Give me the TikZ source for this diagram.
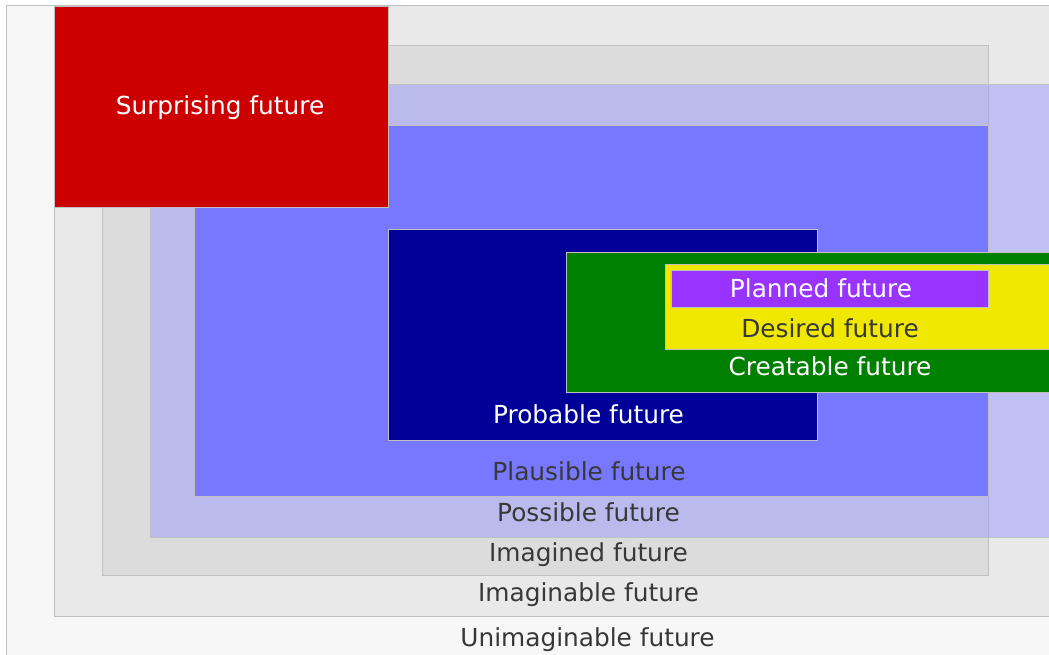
\documentclass[tikz,border=0pt]{standalone}
\usepackage{fontspec}
\setmainfont{DejaVu Sans}
\definecolor{frame}{HTML}{C0C0C0}
\definecolor{darktext}{HTML}{383838}
\definecolor{unimag}{HTML}{F7F7F7}
\definecolor{imagble}{HTML}{E9E9E9}
\definecolor{imagned}{HTML}{DCDCDC}
\definecolor{possib}{HTML}{9999FF}
\definecolor{plaus}{HTML}{7878FF}
\definecolor{probab}{HTML}{000099}
\definecolor{creat}{HTML}{008000}
\definecolor{desir}{HTML}{F0E800}
\definecolor{plann}{HTML}{9933FF}
\definecolor{surpr}{HTML}{CC0000}
\tikzset{
  zone/.style={draw=frame, line width=1pt},
  lbl/.style={anchor=base, inner sep=0pt, font=\fontsize{24.8}{29}\selectfont},
  lightlbl/.style={lbl, text=white},
  darklbl/.style={lbl, text=darktext},
}
\begin{document}
\begin{tikzpicture}[x=1pt, y=-1pt]
\useasboundingbox (0,0) rectangle (1049,655);
\clip (0,0) rectangle (1049,655);

% nested regions, outermost first
\draw[zone, fill=unimag]  (6,6)     rectangle (1070,680);
\draw[zone, fill=imagble] (54,6)    rectangle (1070,616);
\draw[zone, fill=imagned] (102,46)  rectangle (988,575);
\fill[possib, fill opacity=0.5] (150,85) rectangle (1070,537);
\draw[frame, line width=1pt] (150,85) rectangle (1070,537);
\draw[zone, fill=plaus]   (194,126) rectangle (988,496);
\draw[zone, fill=probab]  (388,229) rectangle (817,440);
\draw[zone, fill=creat]   (566,252) rectangle (1070,392);
\draw[zone, fill=desir]   (665,264) rectangle (1070,349);
\draw[zone, fill=plann]   (671,270) rectangle (988,307);
\draw[zone, fill=surpr]   (54,7)    rectangle (388,208);

% labels
\node[lightlbl] (surprising)   at (220,115)   {Surprising future};
\node[lightlbl] (planned)      at (821,297)   {Planned future};
\node[darklbl]  (desired)      at (830,337.5) {Desired future};
\node[lightlbl] (creatable)    at (830,375)   {Creatable future};
\node[lightlbl] (probable)     at (588.5,423) {Probable future};
\node[darklbl]  (plausible)    at (589,480)   {Plausible future};
\node[darklbl]  (possible)     at (588.5,521.5) {Possible future};
\node[darklbl]  (imagined)     at (588.5,561) {Imagined future};
\node[darklbl]  (imaginable)   at (588.5,601) {Imaginable future};
\node[darklbl]  (unimaginable) at (587.5,646) {Unimaginable future};
\end{tikzpicture}
\end{document}
